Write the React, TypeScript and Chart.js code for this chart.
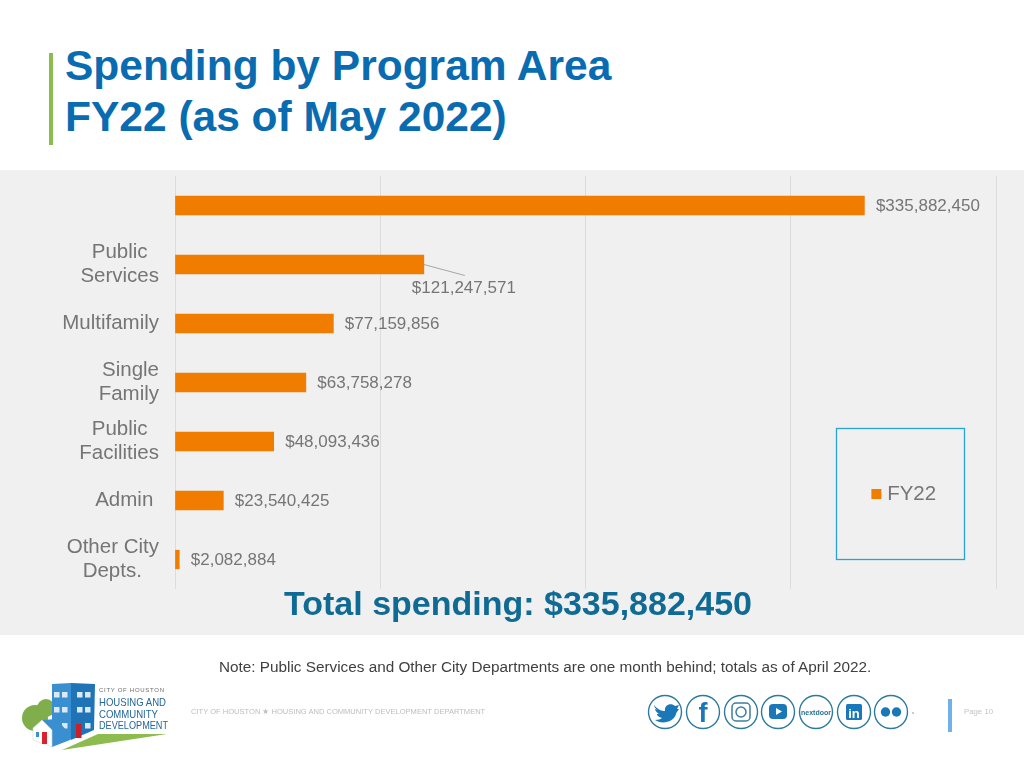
import React, { useEffect, useRef } from "react";
import { Chart, registerables } from "chart.js";

Chart.register(...registerables);

const categoryLabels: (string | string[])[] = [
  "",
  ["Public  ", "Services"],
  "Multifamily",
  ["Single", "Family"],
  ["Public  ", "Facilities"],
  "Admin ",
  ["Other City", "Depts.   "],
];
const seriesName = "FY22";
const spending = [335882450, 121247571, 77159856, 63758278, 48093436, 23540425, 2082884];
const axisMax = 400000000;
const axisStep = 100000000;
const calloutIndex = 1;

const titleLines = ["Spending by Program Area", "FY22 (as of May 2022)"];
const totalText = "Total spending: $335,882,450";
const noteText = "Note: Public Services and Other City Departments are one month behind; totals as of April 2022.";
const footerText = "CITY OF HOUSTON ★ HOUSING AND COMMUNITY DEVELOPMENT DEPARTMENT";
const pageText = "Page 10";

const ORANGE = "#f07c00";
const LABEL = "#757575";
const FONT = "'Liberation Sans', Arial, sans-serif";

const abs = (s: React.CSSProperties): React.CSSProperties => ({ position: "absolute", whiteSpace: "nowrap", ...s });

const valueLabels = {
  id: "valueLabels",
  afterDatasetsDraw(chart: any) {
    const { ctx } = chart;
    const meta = chart.getDatasetMeta(0);
    ctx.save();
    ctx.font = `17px ${FONT}`;
    ctx.fillStyle = LABEL;
    ctx.textBaseline = "middle";
    meta.data.forEach((bar: any, i: number) => {
      const text = "$" + spending[i].toLocaleString("en-US");
      if (i === calloutIndex) {
        ctx.textAlign = "center";
        ctx.fillText(text, bar.x + 40, bar.y + 24);
        ctx.strokeStyle = "#a6a6a6";
        ctx.lineWidth = 1;
        ctx.beginPath();
        ctx.moveTo(bar.x, bar.y);
        ctx.lineTo(bar.x + 41, bar.y + 11);
        ctx.stroke();
      } else {
        ctx.textAlign = "left";
        ctx.fillText(text, bar.x + 11.5, bar.y + 0.7);
      }
    });
    ctx.restore();
  },
};

const placeLegend = {
  id: "placeLegend",
  afterLayout(chart: any) {
    const l = chart.legend;
    const w = l.width;
    const h = l.height;
    l.left = 908 - w / 2;
    l.right = l.left + w;
    l.top = 494 - h / 2;
    l.bottom = l.top + h;
  },
  afterDraw(chart: any) {
    const { ctx } = chart;
    ctx.save();
    ctx.strokeStyle = "#29a3d6";
    ctx.lineWidth = 1.3;
    ctx.strokeRect(836.5, 428.5, 128, 131);
    ctx.restore();
  },
};

function Logo() {
  const navy = "#25679a";
  const windows: [number, number][] = [
    [54, 692], [62, 692], [77, 692], [85, 692],
    [54, 707], [62, 707], [77, 707], [85, 707],
    [62, 723], [85, 723],
  ];
  return (
    <svg style={{ position: "absolute", left: 15, top: 675 }} width={165} height={85} viewBox="15 675 165 85">
      <circle cx={35} cy={718} r={13} fill="#7fae4a" />
      <circle cx={46} cy={708} r={9} fill="#7fae4a" />
      <polygon points="52,684 71,683 71,740 52,722" fill="#3a8fd0" />
      <polygon points="71,683 95,684 94,730 71,740" fill="#1f74b8" />
      {windows.map(([x, y]) => <rect key={`${x}-${y}`} x={x} y={y} width={5.5} height={5.5} fill="#dce9f5" />)}
      <rect x={76} y={724} width={5.5} height={14} fill="#c8202c" />
      <polygon points="42,720 57,719 70,735 70,740 52,747 52,730" fill="#3a8fd0" />
      <polygon points="33,728 42,720 52,730 52,747 33,740" fill="#ffffff" stroke="#c9d9e8" strokeWidth={0.6} />
      <rect x={36} y={732} width={3} height={5} fill="#3a8fd0" />
      <rect x={42} y={732} width={5} height={12} fill="#d8232f" />
      <polygon points="62,750 98,734 167,734" fill="#8dbb4d" />
      <text x={99} y={691.7} fontFamily={FONT} fontSize={6} textLength={65} fill="#6b6b6b">CITY OF HOUSTON</text>
      <text x={99} y={706} fontFamily={FONT} fontSize={11.5} textLength={67} lengthAdjust="spacingAndGlyphs" fill={navy}>HOUSING AND</text>
      <text x={99} y={717.7} fontFamily={FONT} fontSize={11.5} textLength={59} lengthAdjust="spacingAndGlyphs" fill={navy}>COMMUNITY</text>
      <text x={99} y={729.3} fontFamily={FONT} fontSize={11.5} textLength={69} lengthAdjust="spacingAndGlyphs" fill={navy}>DEVELOPMENT</text>
    </svg>
  );
}

function Social() {
  const xs = [665, 703, 741, 778, 816, 854, 891];
  const blue = "#1b78b8";
  return (
    <svg style={{ position: "absolute", left: 640, top: 690 }} width={280} height={45} viewBox="640 690 280 45">
      {xs.map((x) => <circle key={x} cx={x} cy={712} r={16.5} fill="none" stroke="#2c7a9e" strokeWidth={1.4} />)}
      <path d="M654 705 C658 710 662 711 665 711 C664 705 671 702 675 706 L679 705 L677 709 L679 709 C677 712 676 713 676 714 C674 722 662 725 655 720 C658 720 661 719 662 718 C658 717 657 715 657 714 L659 714 C656 712 655 710 655 709 L657 710 C655 708 654 706 654 705 Z" fill={blue} />
      <text x={703} y={722} textAnchor="middle" fontFamily={FONT} fontWeight={700} fontSize={27} fill={blue}>f</text>
      <rect x={732} y={703} width={18} height={18} rx={4} fill="none" stroke="#3e7f9e" strokeWidth={1.5} />
      <circle cx={741} cy={712} r={5} fill="none" stroke="#3e7f9e" strokeWidth={1.5} />
      <rect x={769} y={704} width={18} height={15} rx={4} fill={blue} />
      <polygon points="776,708 776,715 782,711.5" fill="#fff" />
      <text x={816} y={714.5} textAnchor="middle" fontFamily={FONT} fontWeight={700} fontSize={7} fill="#2c6f8f">nextdoor</text>
      <rect x={846} y={704} width={16} height={16} rx={1.5} fill={blue} />
      <text x={854} y={717.5} textAnchor="middle" fontFamily={FONT} fontWeight={700} fontSize={13} fill="#fff">in</text>
      <circle cx={885.5} cy={712} r={4.7} fill={blue} />
      <circle cx={896.5} cy={712} r={4.7} fill={blue} />
      <circle cx={913} cy={713} r={0.8} fill="#888" />
    </svg>
  );
}

export default function App() {
  const ref = useRef<HTMLCanvasElement>(null);
  useEffect(() => {
    document.body.style.margin = "0";
    const chart = new Chart(ref.current!, {
      type: "bar",
      data: {
        labels: categoryLabels as any,
        datasets: [{ label: seriesName, data: spending, backgroundColor: ORANGE, barThickness: 18.6 }],
      },
      options: {
        indexAxis: "y",
        animation: false,
        responsive: false,
        layout: { padding: { left: 0, top: 176, right: 28, bottom: 179 } },
        scales: {
          x: {
            min: 0,
            max: axisMax,
            ticks: { display: false, stepSize: axisStep },
            border: { display: false },
            grid: { color: "#dcdcdc", lineWidth: 1, drawTicks: false },
          },
          y: {
            afterFit(scale: any) { scale.width = 175; },
            border: { display: false },
            grid: { display: false },
            ticks: { color: LABEL, padding: 8, autoSkip: false, font: { family: FONT, size: 20.5, lineHeight: 1.17 } },
          },
        },
        plugins: {
          tooltip: { enabled: false },
          title: { display: false },
          legend: {
            display: true,
            position: "chartArea",
            labels: {
              boxWidth: 1,
              boxHeight: 1,
              padding: 6,
              color: LABEL,
              font: { family: FONT, size: 20.5 },
              generateLabels: () => [
                { text: seriesName, fillStyle: ORANGE, strokeStyle: ORANGE, lineWidth: 9, hidden: false, datasetIndex: 0, fontColor: LABEL },
              ],
            },
          },
        },
      } as any,
      plugins: [valueLabels, placeLegend],
    });
    return () => chart.destroy();
  }, []);

  return (
    <div style={{ position: "relative", width: 1024, height: 768, overflow: "hidden", background: "#fff", fontFamily: FONT }}>
      <div style={abs({ left: 0, top: 170, width: 1024, height: 465, background: "#f0f0f0" })} />
      <div style={abs({ left: 49, top: 53, width: 4, height: 92, background: "#8dbb4d" })} />
      {titleLines.map((t, i) => (
        <div key={t} style={abs({ left: 65, top: 40 + i * 51, fontSize: 42.5, lineHeight: "51px", fontWeight: 700, color: "#0a6cb0" })}>{t}</div>
      ))}
      <canvas ref={ref} width={1024} height={768} style={{ position: "absolute", left: 0, top: 0, display: "block" }} />
      <div style={abs({ left: 284, top: 582, fontSize: 34, lineHeight: "42px", fontWeight: 700, color: "#0f6a94" })}>{totalText}</div>
      <div style={abs({ left: 219, top: 657, fontSize: 15.3, lineHeight: "20px", color: "#404040" })}>{noteText}</div>
      <Logo />
      <div style={abs({ left: 191, top: 706, fontSize: 7.55, lineHeight: "12px", color: "#bdbdbd" })}>{footerText}</div>
      <Social />
      <div style={abs({ left: 948, top: 699, width: 4, height: 33, background: "#6fb1e8" })} />
      <div style={abs({ left: 964, top: 706, fontSize: 7.8, lineHeight: "12px", color: "#c4c4c4" })}>{pageText}</div>
    </div>
  );
}
